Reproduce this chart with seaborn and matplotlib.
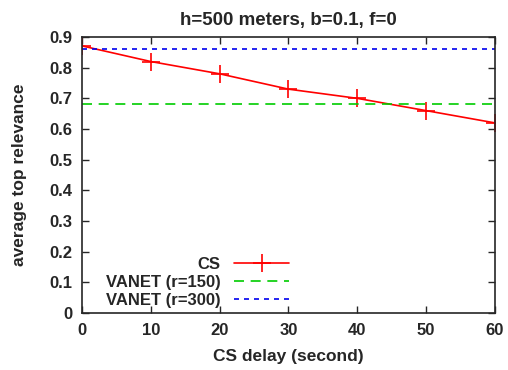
import numpy as np
import pandas as pd
import matplotlib
matplotlib.use("Agg")
import matplotlib.pyplot as plt
import seaborn as sns

# data
cs_delay = [0, 10, 20, 30, 40, 50, 60]
cs_relevance = [0.871, 0.82, 0.78, 0.73, 0.70, 0.66, 0.62]
vanet150 = 0.68
vanet300 = 0.861
xticks = [0, 10, 20, 30, 40, 50, 60]
yticks = [0, 0.1, 0.2, 0.3, 0.4, 0.5, 0.6, 0.7, 0.8, 0.9]

sns.set_style("ticks")
plt.rcParams['font.family'] = ['Liberation Sans', 'DejaVu Sans']
plt.rcParams['font.weight'] = 'bold'

fig = plt.figure(figsize=(5.08, 3.7), dpi=100)
ax = fig.add_axes([0.1614, 0.154, 0.8126, 0.746])

cs_df = pd.DataFrame({"delay": cs_delay, "rel": cs_relevance})
sns.lineplot(data=cs_df, x="delay", y="rel", ax=ax, color="#ff0000", lw=1.2,
             marker="+", markersize=13, markeredgewidth=1.2,
             markeredgecolor="#ff0000", label="CS")

span = [xticks[0], xticks[-1]]
sns.lineplot(x=span, y=[vanet150, vanet150], ax=ax, color="#00cc00", lw=1.2,
             dashes=False, label="VANET (r=150)")
sns.lineplot(x=span, y=[vanet300, vanet300], ax=ax, color="#0000ee", lw=1.2,
             dashes=False, label="VANET (r=300)")
ax.lines[1].set_linestyle((0, (6, 4)))
ax.lines[2].set_linestyle((0, (3, 3)))

ax.set_xlim(0, 60)
ax.set_ylim(0, 0.9)
ax.set_xticks(xticks)
ax.set_yticks(yticks)
ax.set_xticklabels([str(t) for t in xticks])
ax.set_yticklabels(["0"] + [f"{t:.1f}" for t in yticks[1:]])
ax.tick_params(direction="in", top=True, right=True, length=5, width=1,
               labelsize=12, pad=7)
for lab in ax.get_xticklabels() + ax.get_yticklabels():
    lab.set_fontweight("bold")
for sp in ax.spines.values():
    sp.set_linewidth(1.2)

ax.set_xlabel("CS delay (second)", fontsize=12.5, fontweight="bold", labelpad=8)
ax.set_ylabel("average top relevance", fontsize=12.5, fontweight="bold", labelpad=16)
ax.set_title("h=500 meters, b=0.1, f=0", fontsize=13.5, fontweight="bold", pad=9)

leg = ax.legend(loc="lower left", bbox_to_anchor=(0.03, -0.025), frameon=False,
                markerfirst=False, fontsize=12, handlelength=3.3,
                labelspacing=0.18, borderaxespad=0.3, handletextpad=0.8)
for t in leg.get_texts():
    t.set_fontweight("bold")
leg._legend_box.align = "right"
for t in leg.get_texts():
    t.set_ha("right")

fig.savefig("out.png", dpi=100)
